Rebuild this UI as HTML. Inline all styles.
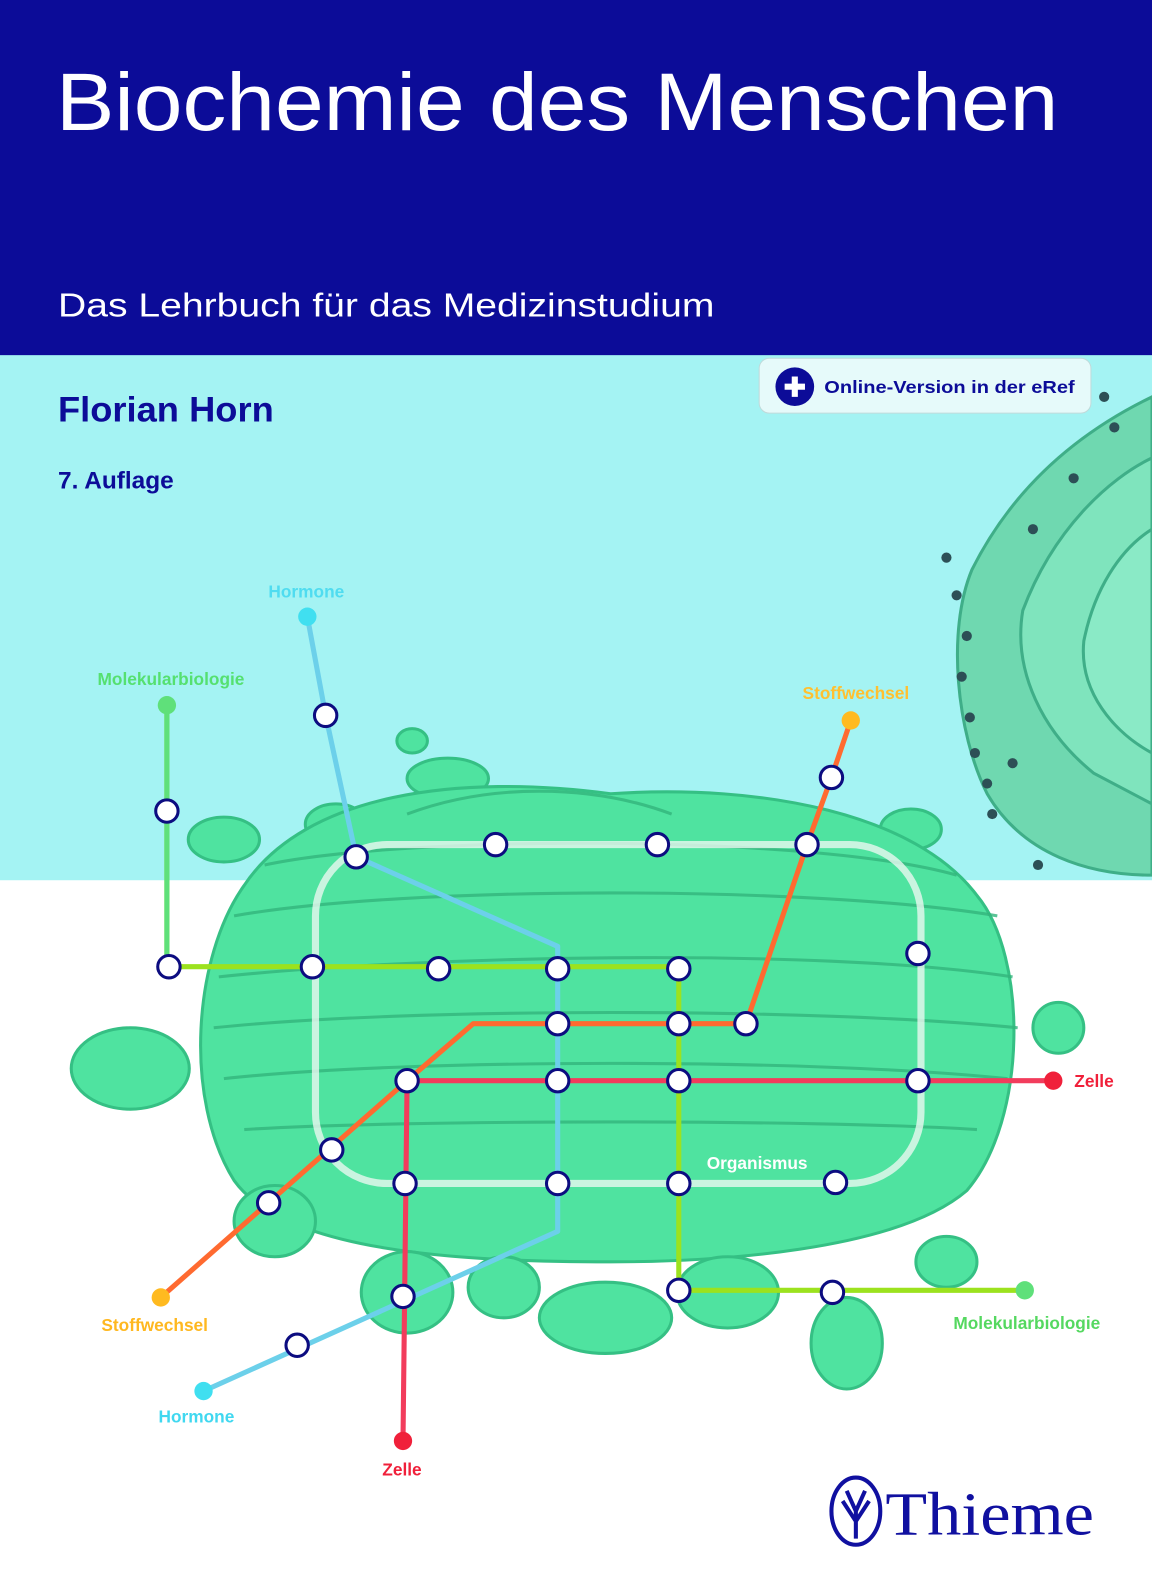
<!DOCTYPE html>
<html><head><meta charset="utf-8"><style>
html,body{margin:0;padding:0;background:#fff}
svg{display:block}
text{font-family:"Liberation Sans",sans-serif}
</style></head><body>
<svg width="1152" height="1595" viewBox="0 0 1132 1567.4" preserveAspectRatio="none" xmlns="http://www.w3.org/2000/svg">
<rect x="0" y="0" width="1132" height="1568" fill="#ffffff"/>
<rect x="0" y="348" width="1132" height="517" fill="#a4f3f3"/>
<rect x="0" y="0" width="1132" height="349" fill="#0c0c98"/>
<text x="55" y="128" font-size="80" fill="#fff" textLength="985" lengthAdjust="spacingAndGlyphs">Biochemie des Menschen</text>
<text x="57" y="311" font-size="33" fill="#fff" textLength="645" lengthAdjust="spacingAndGlyphs">Das Lehrbuch für das Medizinstudium</text>
<text x="57" y="414" font-size="35" font-weight="bold" fill="#0c0c98" textLength="212" lengthAdjust="spacingAndGlyphs">Florian Horn</text>
<text x="57" y="480" font-size="24" font-weight="bold" fill="#0c0c98">7. Auflage</text>

<g fill="#6fd8b0" stroke="#3fae88" stroke-width="3">
<path d="M1132 390 C1070 420 1000 470 955 560 C930 620 940 720 970 780 C1005 840 1070 860 1132 860 Z"/>
<path d="M1132 450 C1090 470 1035 520 1005 600 C995 660 1025 720 1075 760 L1132 790 Z" fill="#7fe4bd"/>
<path d="M1132 520 C1100 540 1075 580 1065 630 C1060 680 1095 720 1132 740 Z" fill="#8aeac6"/>
</g>
<g fill="#2d4f56">
<circle cx="930" cy="548" r="5"/><circle cx="940" cy="585" r="5"/><circle cx="950" cy="625" r="5"/><circle cx="945" cy="665" r="5"/><circle cx="953" cy="705" r="5"/><circle cx="958" cy="740" r="5"/><circle cx="970" cy="770" r="5"/><circle cx="975" cy="800" r="5"/><circle cx="1020" cy="850" r="5"/><circle cx="995" cy="750" r="5"/><circle cx="1085" cy="390" r="5"/><circle cx="1095" cy="420" r="5"/><circle cx="1055" cy="470" r="5"/><circle cx="1015" cy="520" r="5"/>
</g>

<rect x="746" y="352" width="326" height="54" rx="10" fill="#e6fafa" stroke="#c0dada"/>
<circle cx="781" cy="380" r="19" fill="#0c0c98"/>
<rect x="771" y="377" width="20" height="6" fill="#fff"/><rect x="778" y="370" width="6" height="20" fill="#fff"/>
<text x="810" y="386" font-size="17" font-weight="bold" fill="#0c0c98" textLength="246" lengthAdjust="spacingAndGlyphs">Online-Version in der eRef</text>

<g fill="#4fe3a0" stroke="#35c084" stroke-width="3">
<ellipse cx="128" cy="1050" rx="58" ry="40"/>
<ellipse cx="1040" cy="1010" rx="25" ry="25"/>
<ellipse cx="405" cy="728" rx="15" ry="12"/>
<ellipse cx="440" cy="765" rx="40" ry="20"/>
<ellipse cx="330" cy="810" rx="30" ry="20"/>
<ellipse cx="220" cy="825" rx="35" ry="22"/>
<ellipse cx="895" cy="815" rx="30" ry="20"/>
<path d="M240 870 C300 780 450 760 600 780 C750 770 900 800 960 880 C1010 940 1010 1100 950 1170 C880 1230 700 1240 600 1240 C450 1240 280 1230 230 1160 C180 1080 190 940 240 870 Z"/>
<ellipse cx="270" cy="1200" rx="40" ry="35"/>
<ellipse cx="400" cy="1270" rx="45" ry="40"/>
<ellipse cx="495" cy="1265" rx="35" ry="30"/>
<ellipse cx="595" cy="1295" rx="65" ry="35"/>
<ellipse cx="715" cy="1270" rx="50" ry="35"/>
<ellipse cx="832" cy="1320" rx="35" ry="45"/>
<ellipse cx="930" cy="1240" rx="30" ry="25"/>
</g>
<g fill="none" stroke="#33b57c" stroke-width="3" opacity="0.8">
<path d="M260 850 C400 820 800 820 940 860"/>
<path d="M230 900 C400 870 800 870 980 900"/>
<path d="M215 960 C400 940 800 930 995 960"/>
<path d="M210 1010 C400 990 800 990 1000 1010"/>
<path d="M220 1060 C400 1040 800 1040 990 1060"/>
<path d="M240 1110 C400 1100 800 1100 960 1110"/>
<path d="M400 800 C480 770 580 770 660 800"/>
</g>

<rect x="310" y="830" width="595" height="333" rx="70" fill="none" stroke="#e8f8f0" stroke-width="7" opacity="0.8"/>

<g fill="none" stroke-width="5" stroke-linejoin="round">
<polyline points="164,693 164,950 667,950 667,1268 1007,1268" stroke="#9ce21e"/>
<polyline points="164,693 164,950" stroke="#5fe07a"/>
<polyline points="302,606 320,703 350,842 548,930 548,1210 200,1367" stroke="#6cd0ea"/>
<polyline points="836,708 817,764 793,830 733,1006 465,1006 400,1062 158,1275" stroke="#ff6a30"/>
<polyline points="1035,1062 400,1062 396,1416" stroke="#f23c5c"/>
</g>
<circle cx="164" cy="693" r="9" fill="#5fe07a"/>
<circle cx="302" cy="606" r="9" fill="#40dff0"/>
<circle cx="836" cy="708" r="9" fill="#ffba20"/>
<circle cx="1035" cy="1062" r="9" fill="#f0203a"/>
<circle cx="158" cy="1275" r="9" fill="#ffba20"/>
<circle cx="200" cy="1367" r="9" fill="#40dff0"/>
<circle cx="396" cy="1416" r="9" fill="#f0203a"/>
<circle cx="1007" cy="1268" r="9" fill="#5fe07a"/>

<g fill="#fff" stroke="#0c0c80" stroke-width="3">
<circle cx="164" cy="797" r="11"/><circle cx="166" cy="950" r="11"/><circle cx="307" cy="950" r="11"/><circle cx="431" cy="952" r="11"/><circle cx="548" cy="952" r="11"/><circle cx="667" cy="952" r="11"/>
<circle cx="667" cy="1006" r="11"/><circle cx="667" cy="1062" r="11"/><circle cx="667" cy="1163" r="11"/><circle cx="667" cy="1268" r="11"/><circle cx="818" cy="1270" r="11"/>
<circle cx="320" cy="703" r="11"/><circle cx="350" cy="842" r="11"/><circle cx="548" cy="1006" r="11"/><circle cx="548" cy="1062" r="11"/><circle cx="548" cy="1163" r="11"/><circle cx="292" cy="1322" r="11"/>
<circle cx="817" cy="764" r="11"/><circle cx="793" cy="830" r="11"/><circle cx="733" cy="1006" r="11"/><circle cx="400" cy="1062" r="11"/><circle cx="326" cy="1130" r="11"/><circle cx="264" cy="1182" r="11"/>
<circle cx="902" cy="1062" r="11"/><circle cx="398" cy="1163" r="11"/><circle cx="396" cy="1274" r="11"/>
<circle cx="487" cy="830" r="11"/><circle cx="646" cy="830" r="11"/><circle cx="902" cy="937" r="11"/><circle cx="821" cy="1162" r="11"/>
</g>

<g font-size="17" font-weight="bold" text-anchor="middle">
<text x="301" y="587" fill="#4fdcf0">Hormone</text>
<text x="168" y="673" fill="#55e070">Molekularbiologie</text>
<text x="841" y="687" fill="#ffc030">Stoffwechsel</text>
<text x="1075" y="1068" fill="#f0203a">Zelle</text>
<text x="152" y="1308" fill="#ffb820">Stoffwechsel</text>
<text x="193" y="1398" fill="#40d8f0">Hormone</text>
<text x="395" y="1450" fill="#f0203a">Zelle</text>
<text x="1009" y="1306" fill="#55d860">Molekularbiologie</text>
<text x="744" y="1149" fill="#ffffff">Organismus</text>
</g>

<ellipse cx="841" cy="1485" rx="24" ry="33" fill="none" stroke="#1010a0" stroke-width="4"/>
<path d="M841 1512 L841 1480 M841 1495 L828 1475 M841 1495 L854 1475 M841 1485 L832 1465 M841 1485 L850 1465" stroke="#1010a0" stroke-width="4" fill="none"/>
<text x="870" y="1508" style="font-family:'Liberation Serif',serif" font-size="60" fill="#1010a0" textLength="205" lengthAdjust="spacingAndGlyphs">Thieme</text>
</svg>
</body></html>
